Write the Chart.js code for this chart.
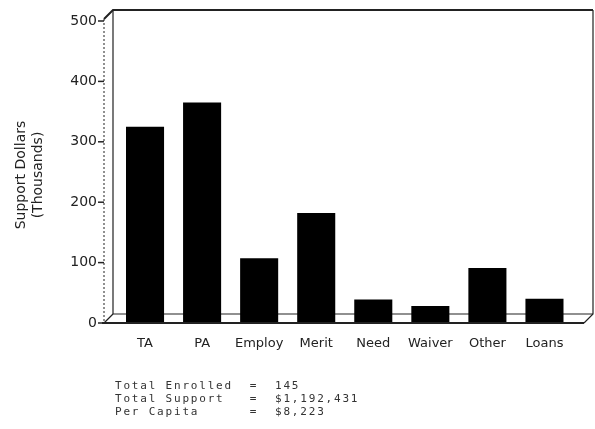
<!DOCTYPE html>
<html>
<head>
<meta charset="utf-8">
<script src="https://cdn.jsdelivr.net/npm/chart.js@4.4.0/dist/chart.umd.min.js"></script>
<style>
  html, body { margin: 0; padding: 0; background: #fff; }
  #wrap { position: relative; width: 595px; height: 429px; }
  #my-chart { position: absolute; left: 0; top: 0; }
  #stats {
    position: absolute; left: 115px; top: 380px; margin: 0;
    font: 11px "DejaVu Sans Mono", monospace; letter-spacing: 1.8px;
    line-height: 12.8px; color: #333; white-space: pre;
  }
</style>
</head>
<body>
<div id="wrap">
  <canvas id="my-chart" width="595" height="429"></canvas>
  <pre id="stats"></pre>
</div>
<script>
'use strict';

// ***************** DATA ***************** //

let categories = ['TA', 'PA', 'Employ', 'Merit', 'Need', 'Waiver', 'Other', 'Loans'];
let supportValues = [325, 365, 107, 182, 39, 28, 91, 40];
let yTicks = [0, 100, 200, 300, 400, 500];
let axisTitle = ['Support Dollars', '(Thousands)'];
let statLines = [
  'Total Enrolled  =  145',
  'Total Support   =  $1,192,431',
  'Per Capita      =  $8,223'
];

document.getElementById('stats').textContent = statLines.join('\n');

// ***************** FRAME PLUGIN ***************** //

let ink = '#222';

let framePlugin = {
  id: 'frame',
  beforeDatasetsDraw(chart) {
    let c = chart.ctx;
    let y = chart.scales.y;
    let top = y.getPixelForValue(yTicks[yTicks.length - 1]);
    let base = y.getPixelForValue(0);
    let ax = 104;
    let bx = 113;
    let rx = 593;
    let d = 9;

    c.save();
    c.strokeStyle = ink;

    // dotted front axis line
    c.lineWidth = 1;
    c.setLineDash([2, 2]);
    c.beginPath();
    c.moveTo(ax, top - 2);
    c.lineTo(ax, base);
    c.stroke();
    c.setLineDash([]);

    // tick marks and tick labels
    c.lineWidth = 1.5;
    c.fillStyle = ink;
    c.font = '14px "DejaVu Sans"';
    c.textAlign = 'right';
    c.textBaseline = 'middle';
    y.ticks.forEach(function (t) {
      let py = y.getPixelForValue(t.value);
      c.beginPath();
      c.moveTo(ax - 6, py);
      c.lineTo(ax, py);
      c.stroke();
      c.fillText(String(t.value), ax - 7, py);
    });

    // back wall left + floor back edge
    c.lineWidth = 1.2;
    c.beginPath();
    c.moveTo(bx, top - 11);
    c.lineTo(bx, base - d);
    c.lineTo(rx, base - d);
    c.stroke();

    // top edge
    c.lineWidth = 2;
    c.beginPath();
    c.moveTo(ax, top - 2);
    c.lineTo(bx, top - 11);
    c.lineTo(rx, top - 11);
    c.stroke();

    // right wall
    c.lineWidth = 1.2;
    c.beginPath();
    c.moveTo(rx, top - 11);
    c.lineTo(rx, base - d);
    c.lineTo(rx - d, base);
    c.stroke();

    // floor left diagonal
    c.beginPath();
    c.moveTo(ax, base);
    c.lineTo(bx, base - d);
    c.stroke();

    c.restore();
  },
  afterDatasetsDraw(chart) {
    let c = chart.ctx;
    let base = chart.scales.y.getPixelForValue(0);
    c.save();
    c.strokeStyle = ink;
    c.lineWidth = 2;
    c.beginPath();
    c.moveTo(102, base);
    c.lineTo(584, base);
    c.stroke();
    c.restore();
  },
  afterDraw(chart) {
    let c = chart.ctx;
    let y = chart.scales.y;
    let mid = (y.getPixelForValue(0) + y.getPixelForValue(500)) / 2 + 3;
    c.save();
    c.fillStyle = ink;
    c.font = '14px "DejaVu Sans"';
    c.textAlign = 'center';
    c.textBaseline = 'middle';
    c.translate(21, mid);
    c.rotate(-Math.PI / 2);
    c.fillText(axisTitle[0], 0, 0);
    c.fillText(axisTitle[1], 0, 17);
    c.restore();
  }
};

// ***************** CHART ***************** //

let ctx = document.getElementById('my-chart').getContext('2d');

new Chart(ctx, {
  type: 'bar',
  data: {
    labels: categories,
    datasets: [{
      data: supportValues,
      backgroundColor: '#000',
      borderWidth: 0,
      categoryPercentage: 1,
      barPercentage: 0.667
    }]
  },
  options: {
    responsive: false,
    animation: false,
    layout: { padding: { left: 0, right: 22, top: 21, bottom: 0 } },
    plugins: { legend: { display: false }, tooltip: { enabled: false } },
    scales: {
      x: {
        offset: true,
        grid: { display: false, drawTicks: false },
        border: { display: false },
        ticks: {
          color: ink,
          padding: 13,
          maxRotation: 0,
          font: { family: 'DejaVu Sans', size: 13 }
        },
        afterFit(scale) { scale.height = 106; }
      },
      y: {
        min: 0,
        max: 500,
        grid: { display: false, drawTicks: false },
        border: { display: false },
        afterBuildTicks(scale) {
          scale.ticks = yTicks.map(function (v) { return { value: v }; });
        },
        ticks: { display: false },
        afterFit(scale) { scale.width = 116.5; }
      }
    }
  },
  plugins: [framePlugin]
});
</script>
</body>
</html>
